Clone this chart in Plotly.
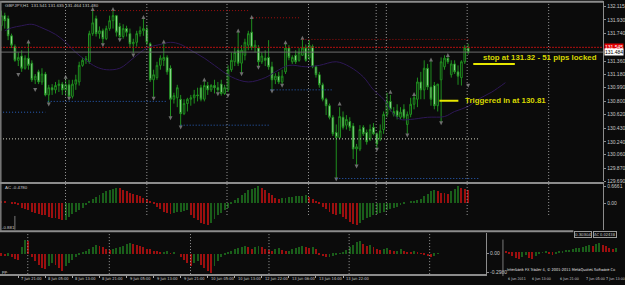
import plotly.graph_objects as go

# ---------------- data ----------------
OPEN = [131.85,131.99,131.95,131.71,131.56,131.37,131.43,131.26,131.40,131.33,
        131.10,131.21,131.07,131.18,130.89,130.99,130.96,131.02,131.04,130.96,
        131.03,130.87,131.04,131.07,131.30,131.37,131.35,131.74,131.95,131.74,
        131.78,131.67,131.81,131.92,131.99,131.84,131.70,131.81,131.74,131.60,
        131.62,131.74,131.78,131.80,131.60,131.10,131.13,131.30,131.37,131.41,
        131.26,130.83,130.85,130.83,130.63,130.77,130.83,130.85,130.89,130.99,
        130.83,131.02,130.96,131.02,130.99,131.04,130.91,130.96,131.24,131.35,
        131.51,131.33,131.44,131.58,131.76,131.55,131.54,131.35,131.40,131.41,
        131.28,131.10,131.15,131.07,131.21,131.54,131.35,131.44,131.37,131.44,
        131.54,131.40,131.56,131.28,131.17,131.03,130.83,130.74,130.58,130.37,
        130.30,130.58,130.47,130.52,130.46,130.14,130.14,130.44,130.37,130.28,
        130.44,130.35,130.28,130.41,130.62,130.80,130.62,130.67,130.58,130.69,
        130.48,130.62,130.76,130.83,131.07,130.96,131.26,131.00,131.02,130.74,
        131.10,131.28,131.40,131.17,131.32,131.21,131.13,131.35,131.54]
HIGH = [132.06,132.03,131.99,131.74,131.59,131.48,131.51,131.44,131.62,131.37,
        131.18,131.24,131.26,131.21,131.03,131.04,131.07,131.10,131.07,131.13,
        131.10,131.10,131.17,131.35,131.41,131.43,131.78,132.06,131.99,131.84,
        131.81,131.85,131.99,132.06,132.00,131.89,131.87,131.85,131.81,131.67,
        131.78,131.84,131.95,131.85,131.62,131.24,131.35,131.44,131.60,131.44,
        131.30,130.92,131.03,130.89,130.83,130.85,130.89,130.96,130.99,131.03,
        131.10,131.07,131.04,131.10,131.07,131.10,131.03,131.30,131.48,131.54,
        131.77,131.58,131.67,131.78,131.96,131.65,131.58,131.48,131.51,131.65,
        131.35,131.19,131.21,131.24,131.60,131.58,131.44,131.51,131.54,131.67,
        131.59,131.65,131.59,131.30,131.21,131.06,130.85,130.77,130.61,130.48,
        130.72,130.66,130.61,130.58,130.50,130.21,130.47,130.47,130.41,130.48,
        130.50,130.37,130.48,130.66,130.92,130.89,130.72,130.76,130.72,130.76,
        130.66,130.85,130.89,131.13,131.21,131.37,131.32,131.37,131.07,131.04,
        131.41,131.44,131.43,131.37,131.37,131.30,131.37,131.58,131.60]
LOW = [131.78,131.81,131.65,131.54,131.35,131.29,131.21,131.24,131.24,131.07,
       131.04,131.04,131.03,130.87,130.77,130.89,130.91,130.93,130.89,130.88,
       130.85,130.84,130.96,131.02,131.28,131.32,131.32,131.71,131.70,131.67,
       131.59,131.65,131.78,131.81,131.70,131.66,131.67,131.70,131.54,131.47,
       131.56,131.70,131.71,131.58,131.07,130.85,131.10,131.24,131.29,131.17,
       130.58,130.77,130.72,130.46,130.61,130.66,130.74,130.77,130.80,130.80,
       130.80,130.89,130.93,130.91,130.91,130.88,130.89,130.93,131.21,131.29,
       131.29,131.19,131.37,131.51,131.51,131.48,131.28,131.32,131.29,131.24,
       130.95,131.04,131.04,131.03,131.18,131.37,131.32,131.32,131.35,131.43,
       131.35,131.37,131.26,131.13,130.99,130.80,130.61,130.55,130.32,129.73,
       130.28,130.41,130.41,130.39,130.00,129.92,130.11,130.32,130.20,130.25,
       130.33,130.14,130.25,130.35,130.58,130.66,130.59,130.55,130.55,130.55,
       130.35,130.58,130.69,130.72,130.83,130.83,130.96,130.74,130.69,130.66,
       130.51,131.24,131.32,131.13,131.18,131.03,131.02,131.32,131.45]
CLOSE = [131.99,131.92,131.71,131.58,131.37,131.41,131.26,131.40,131.30,131.10,
         131.15,131.07,131.18,130.89,130.99,130.96,131.02,131.04,130.96,131.03,
         130.87,131.04,131.10,131.30,131.37,131.39,131.74,131.89,131.74,131.78,
         131.67,131.81,131.92,131.99,131.76,131.70,131.81,131.76,131.60,131.62,
         131.74,131.78,131.81,131.62,131.10,131.17,131.30,131.40,131.41,131.21,
         130.83,130.88,130.99,130.63,130.77,130.83,130.85,130.89,130.88,130.83,
         131.02,130.96,131.02,130.99,130.96,130.91,130.99,131.24,131.37,131.48,
         131.33,131.51,131.62,131.74,131.55,131.58,131.35,131.43,131.37,131.28,
         131.10,131.15,131.07,131.15,131.54,131.41,131.41,131.35,131.48,131.54,
         131.37,131.58,131.28,131.17,131.03,130.83,130.74,130.58,130.35,130.30,
         130.59,130.44,130.55,130.44,130.14,130.17,130.41,130.35,130.24,130.41,
         130.35,130.21,130.39,130.62,130.80,130.69,130.66,130.59,130.65,130.58,
         130.62,130.76,130.85,131.07,130.96,131.26,131.00,130.83,130.74,131.04,
         131.35,131.40,131.35,131.32,131.21,131.15,131.35,131.54,131.48]

MA_X = [1,3,6,9,12,16,19,22,25,28,31,35,39,43,47,50,53,56,60,63,68,73,78,81,85,
        90,94,99,103,107,110,113,116,118,121,126,131,134,138,141,145,149]
MA_Y = [131.78,131.82,131.85,131.87,131.82,131.73,131.62,131.48,131.37,131.28,
        131.24,131.26,131.40,131.54,131.59,131.62,131.59,131.51,131.40,131.30,
        131.14,131.07,131.13,131.21,131.30,131.28,131.30,131.35,131.28,131.14,
        130.96,130.83,130.62,130.55,130.55,130.58,130.59,130.66,130.73,130.83,
        130.93,131.06]

FRAC_UP_X = [8,19,27,33,42,48,60,70,74,84,89,100,115,122,127,132]
FRAC_UP_Y = [131.66,131.17,132.11,132.11,132.00,131.66,131.13,131.81,132.00,
             131.65,131.71,130.80,130.96,130.93,131.41,131.47]
FRAC_DN_X = [5,10,14,20,30,35,39,45,50,53,64,67,71,76,80,83,99,105,111,120,130,138]
FRAC_DN_Y = [131.14,130.93,130.73,130.81,131.55,131.62,131.41,130.81,130.54,
             130.41,130.87,130.85,131.15,131.24,130.91,130.99,129.69,129.87,
             130.10,130.30,130.47,130.99]

# dotted level lines: start bar, end bar, price
RED_LEVELS = [(27.4, 73.5, 132.06), (74.4, 88.1, 131.96), (89.0, 138.3, 131.66)]
BLUE_LEVELS = [(0.5, 13.0, 130.65), (13.7, 48.6, 130.80), (53.0, 79.0, 130.47),
               (79.6, 97.8, 130.96), (99.0, 141.2, 129.73)]
WHITE_LEVEL = (-0.4, 141.2, 130.28)
STOP_LEVEL = 131.55
BID = 131.484
STOP_LOCK = (139.5, 151.8, 131.32)
TRIGGER = (129.5, 135.1, 130.81)

SEPARATORS_MAIN = [18.95, 43.0, 66.7, 90.8, 110.8, 113.8, 137.7, 161.8]
SEPARATORS_LOW = [7.8, 31.9, 55.9, 79.1, 102.8, 126.6]

PRICE_TICKS = [132.115, 131.930, 131.740, 131.360, 131.180, 130.990, 130.800,
               130.620, 130.430, 130.240, 130.060, 129.870, 129.690]

AC = [0.05,0.03,0.00,-0.03,-0.06,-0.10,-0.20,-0.25,-0.30,-0.35,-0.40,-0.45,-0.47,
      -0.50,-0.55,-0.60,-0.62,-0.65,-0.70,-0.68,-0.55,-0.45,-0.38,-0.30,-0.20,-0.10,
      0.05,0.15,0.22,0.30,0.38,0.45,0.50,0.55,0.60,0.58,0.50,0.45,0.40,0.35,0.30,
      0.25,0.20,0.15,0.08,-0.05,-0.15,-0.25,-0.35,-0.40,-0.45,-0.42,-0.38,-0.35,
      -0.33,-0.30,-0.50,-0.60,-0.70,-0.80,-0.86,-0.88,-0.80,-0.65,-0.50,-0.40,-0.30,
      -0.20,-0.05,0.10,0.20,0.30,0.40,0.50,0.55,0.60,0.65,0.60,0.50,0.40,0.30,0.20,
      0.15,0.17,0.19,0.21,0.23,0.25,0.27,0.28,0.30,0.22,0.15,0.08,-0.05,-0.15,-0.25,
      -0.35,-0.45,-0.50,-0.45,-0.55,-0.65,-0.75,-0.85,-0.90,-0.80,-0.70,-0.60,-0.55,
      -0.50,-0.45,-0.40,-0.35,-0.30,-0.25,-0.20,-0.15,-0.10,-0.05,0.00,0.03,0.06,
      0.10,0.15,0.25,0.35,0.45,0.50,0.45,0.40,0.38,0.35,0.45,0.55,0.65,0.60,0.55,0.50]

OSC = [-0.03,-0.04,-0.03,-0.05,-0.08,-0.10,0.10,0.22,0.20,-0.05,-0.12,-0.18,-0.22,
       -0.25,-0.20,-0.15,-0.18,-0.22,-0.27,-0.20,-0.15,-0.10,-0.05,-0.02,0.02,0.05,
       0.08,0.10,0.14,0.12,0.10,0.08,0.06,0.07,0.09,0.11,0.13,0.15,0.17,0.15,0.14,
       0.12,0.10,0.08,0.07,0.05,0.04,0.02,0.03,0.04,0.01,0.02,0.00,-0.05,-0.10,-0.15,
       -0.19,-0.15,-0.12,-0.18,-0.22,-0.27,-0.30,-0.20,-0.12,-0.06,-0.02,0.02,0.05,
       0.07,0.09,0.11,0.12,0.10,0.08,0.11,0.12,0.10,0.08,0.06,0.05,0.07,0.09,0.06,
       0.04,0.05,0.07,0.09,0.11,0.13,0.11,0.09,0.10,0.08,-0.02,-0.04,-0.06,-0.05,
       -0.03,-0.02,0.01,0.03,0.06,0.10,0.14,0.18,0.20,0.16,0.12,0.14,0.10,0.08,0.06,
       0.07,0.09,0.06,0.04,0.05,0.07,0.05,0.03,0.02,0.04,0.03,0.01,-0.02,-0.04,-0.06,
       -0.03,0.01]

MINI = [0.05,-0.10,-0.30,-0.45,-0.50,-0.35,-0.20,-0.40,-0.50,-0.30,-0.15,-0.05,0.05,
        -0.10,-0.20,-0.10,0.05,0.10,0.15,0.20,0.25,0.30,0.35,0.40,0.50,0.55,0.45,
        0.60,0.70,0.55,0.45,0.35,0.25,0.30]

TIME_BARS = [-3, 5, 13, 21, 29, 37, 45, 53, 61, 69, 77, 85, 93, 101]
TIME_LABELS = ["7 Jun 13:00", "7 Jun 21:00", "8 Jun 05:00", "8 Jun 13:00",
               "8 Jun 21:00", "9 Jun 05:00", "9 Jun 13:00", "9 Jun 21:00",
               "10 Jun 05:00", "10 Jun 13:00", "12 Jun 22:00", "13 Jun 06:00",
               "13 Jun 14:00", "13 Jun 22:00"]
MINI_TIME_LABELS = ["6 Jun 2011", "6 Jun 13:00", "6 Jun 21:00", "7 Jun 05:00", "7 Jun 13:00"]
MINI_TIME_BARS = [0, 7.3, 15.8, 23.4, 29.4]

# ---------------- layout helpers ----------------
W, H = 625, 285
BG = "#0b0b0b"
WICK = "#1f8f1f"
BEAR_FILL = "#b8f5b8"
GRID = "#8c8c8c"
TXT = "#c8c8c8"
FONT = "Liberation Sans"
CFONT = "DejaVu Sans Condensed, Liberation Sans Narrow, Liberation Sans"


def fx(p):
    return p / W


def fy(p):
    return 1 - p / H


BARS = list(range(len(CLOSE)))

fig = go.Figure()

fig.add_trace(go.Candlestick(
    x=BARS, open=OPEN, high=HIGH, low=LOW, close=CLOSE,
    increasing=dict(line=dict(color=WICK, width=1), fillcolor=BG),
    decreasing=dict(line=dict(color=WICK, width=1), fillcolor=BEAR_FILL),
    whiskerwidth=0, hoverinfo="skip", xaxis="x", yaxis="y"))

fig.add_trace(go.Scatter(x=MA_X, y=MA_Y, mode="lines", line=dict(color="#2e1856", width=1, shape="spline"),
                         hoverinfo="skip", xaxis="x", yaxis="y"))

fig.add_trace(go.Scatter(x=FRAC_UP_X, y=FRAC_UP_Y, mode="markers",
                         marker=dict(symbol="arrow-up", size=4, color="#6e6e6e", line=dict(width=0)),
                         hoverinfo="skip", xaxis="x", yaxis="y"))
fig.add_trace(go.Scatter(x=FRAC_DN_X, y=FRAC_DN_Y, mode="markers",
                         marker=dict(symbol="arrow-down", size=4, color="#6e6e6e", line=dict(width=0)),
                         hoverinfo="skip", xaxis="x", yaxis="y"))


def hist_colors(vals):
    cols = []
    for i, v in enumerate(vals):
        prev = vals[i - 1] if i > 0 else v + 1
        cols.append("#1a5e1a" if v > prev else "#9c0f0f")
    return cols


fig.add_trace(go.Bar(x=BARS, y=AC, marker=dict(color=hist_colors(AC), line=dict(width=0)),
                     width=0.28, hoverinfo="skip", xaxis="x2", yaxis="y2"))
fig.add_trace(go.Bar(x=list(range(len(OSC))), y=OSC, marker=dict(color=hist_colors(OSC), line=dict(width=0)),
                     width=0.28, hoverinfo="skip", xaxis="x3", yaxis="y3"))
fig.add_trace(go.Bar(x=list(range(len(MINI))), y=MINI, marker=dict(color=hist_colors(MINI), line=dict(width=0)),
                     width=0.28, hoverinfo="skip", xaxis="x4", yaxis="y4"))

XR = [-0.41, 177.9]
fig.update_layout(
    width=W, height=H, margin=dict(l=0, r=0, t=0, b=0),
    paper_bgcolor=BG, plot_bgcolor=BG, showlegend=False, bargap=0,
    xaxis=dict(domain=[0, fx(608)], range=XR, visible=False, rangeslider=dict(visible=False)),
    yaxis=dict(domain=[fy(183), 1], range=[132.193 - 0.01368 * 183, 132.193], side="right",
               tickvals=PRICE_TICKS, ticktext=["%.3f" % v for v in PRICE_TICKS],
               tickfont=dict(size=5, color=TXT, family=FONT), ticks="outside", ticklen=2,
               tickcolor=GRID, showgrid=False, zeroline=False, showline=True, linecolor=GRID),
    xaxis2=dict(domain=[0, fx(608)], range=XR, visible=False, anchor="y2"),
    yaxis2=dict(domain=[fy(232), fy(186)], range=[-1.059, 0.745], side="right", anchor="x2",
                tickvals=[0.6661, 0], ticktext=["0.6661", "0.00"],
                tickfont=dict(size=5, color=TXT, family=FONT), ticks="outside", ticklen=2,
                tickcolor=GRID, showgrid=False, zeroline=False, showline=True, linecolor=GRID),
    xaxis3=dict(domain=[0, fx(490)], range=[-0.41, 143.28], anchor="y3", tickvals=TIME_BARS,
                showticklabels=False, ticks="outside", ticklen=2, tickcolor="#aaaaaa",
                showgrid=False, zeroline=False, showline=True, linecolor=GRID, linewidth=2),
    yaxis3=dict(domain=[fy(277), fy(235)], range=[-0.329, 0.329], side="right", anchor="x3",
                tickvals=[0, -0.298], ticktext=["0.00", "-0.2980"],
                tickfont=dict(size=5, color=TXT, family=FONT), ticks="outside", ticklen=2,
                tickcolor=GRID, showgrid=False, zeroline=False, showline=True, linecolor=GRID),
    xaxis4=dict(domain=[fx(508), 1], range=[-0.5, 34.2], anchor="y4", visible=False),
    yaxis4=dict(domain=[fy(268), fy(241)], range=[-1, 1], anchor="x4", visible=False),
)

shapes = []
for s in SEPARATORS_MAIN:
    shapes.append(dict(type="line", xref="x", yref="paper", x0=s, x1=s, y0=fy(217), y1=1,
                       line=dict(color="#9a9a9a", width=1, dash="1px,2px")))
for s in SEPARATORS_LOW:
    shapes.append(dict(type="line", xref="x3", yref="paper", x0=s, x1=s, y0=fy(277), y1=fy(235),
                       line=dict(color="#9a9a9a", width=1, dash="1px,2px")))
for x0, x1, p in RED_LEVELS:
    shapes.append(dict(type="line", xref="x", yref="y", x0=x0, x1=x1, y0=p, y1=p,
                       line=dict(color="#a01010", width=1, dash="1px,2px")))
for x0, x1, p in BLUE_LEVELS:
    shapes.append(dict(type="line", xref="x", yref="y", x0=x0, x1=x1, y0=p, y1=p,
                       line=dict(color="#2a62c0", width=1, dash="1px,2px")))
x0, x1, p = WHITE_LEVEL
shapes.append(dict(type="line", xref="x", yref="y", x0=x0, x1=x1, y0=p, y1=p,
                   line=dict(color="#d8d8c8", width=1, dash="1px,2px")))
shapes.append(dict(type="line", xref="x", yref="y", x0=XR[0], x1=XR[1], y0=STOP_LEVEL, y1=STOP_LEVEL,
                   line=dict(color="#b01010", width=1, dash="2px,1px")))
shapes.append(dict(type="line", xref="x", yref="y", x0=XR[0], x1=XR[1], y0=BID, y1=BID,
                   line=dict(color="#6e6e6e", width=1)))
for x0, x1, p in (STOP_LOCK, TRIGGER):
    shapes.append(dict(type="line", xref="x", yref="y", x0=x0, x1=x1, y0=p, y1=p,
                       line=dict(color="#e8e800", width=2)))
shapes += [
    dict(type="line", xref="paper", yref="paper", x0=0, x1=fx(608), y0=fy(0.8), y1=fy(0.8),
         line=dict(color=GRID, width=2)),
    dict(type="line", xref="paper", yref="paper", x0=fx(0.8), x1=fx(0.8), y0=fy(233), y1=1,
         line=dict(color="#7a7a7a", width=1.5)),
    dict(type="line", xref="paper", yref="paper", x0=0, x1=fx(609), y0=fy(184.5), y1=fy(184.5),
         line=dict(color=GRID, width=2)),
    dict(type="line", xref="paper", yref="paper", x0=0, x1=fx(578), y0=fy(233.5), y1=fy(233.5),
         line=dict(color=GRID, width=2)),
    dict(type="line", xref="paper", yref="paper", x0=fx(507), x1=fx(507), y0=fy(279), y1=fy(242),
         line=dict(color="#7a7a7a", width=1)),
    dict(type="line", xref="paper", yref="paper", x0=fx(15), x1=fx(15), y0=fy(232), y1=fy(218),
         line=dict(color="#7a7a7a", width=1)),
]
fig.update_layout(shapes=shapes)

ann = []
small = dict(size=4.4, color=TXT, family=FONT)
tiny = dict(size=4.0, color=TXT, family=CFONT)
mini = dict(size=3.7, color=TXT, family=CFONT)
ann.append(dict(x=fx(3), y=fy(5), xref="paper", yref="paper", xanchor="left", yanchor="middle",
                text="GBPJPY,H1  131.541 131.635 131.464 131.480", showarrow=False, font=small))
ann.append(dict(x=fx(3), y=fy(189), xref="paper", yref="paper", xanchor="left", yanchor="middle",
                text="AC -0.4780", showarrow=False, font=small))
ann.append(dict(x=fx(0), y=fy(230), xref="paper", yref="paper", xanchor="left", yanchor="middle",
                text="-0.881", showarrow=False, font=small))
ann.append(dict(x=fx(0), y=fy(274), xref="paper", yref="paper", xanchor="left", yanchor="middle",
                text="pp.", showarrow=False, font=small))
ann.append(dict(x=fx(609), y=STOP_LEVEL, xref="paper", yref="y", xanchor="left", yanchor="middle",
                text="131.545", showarrow=False, bgcolor="#e00000", borderpad=0,
                font=dict(size=5, color="#ffffff", family=FONT)))
ann.append(dict(x=fx(609), y=BID, xref="paper", yref="y", xanchor="left", yanchor="middle",
                text="131.484", showarrow=False, bgcolor="#ffffff", borderpad=0,
                font=dict(size=5, color="#000000", family=FONT)))
ann.append(dict(x=141.8, y=131.41, xref="x", yref="y", xanchor="left", yanchor="middle",
                text="<b>stop at 131.32 - 51 pips locked</b>", showarrow=False,
                font=dict(size=7.9, color="#d8d800", family=FONT)))
ann.append(dict(x=136.5, y=130.81, xref="x", yref="y", xanchor="left", yanchor="middle",
                text="<b>Triggered in at 130.81</b>", showarrow=False,
                font=dict(size=7.9, color="#d8d800", family=FONT)))
for b, t in zip(TIME_BARS, TIME_LABELS):
    ann.append(dict(x=b, y=fy(281.5), xref="x3", yref="paper", xanchor="left", yanchor="middle",
                    text=t, showarrow=False, xshift=1, font=tiny))
for b, t in zip(MINI_TIME_BARS, MINI_TIME_LABELS):
    ann.append(dict(x=b, y=fy(281.5), xref="x4", yref="paper", xanchor="left", yanchor="middle",
                    text=t, showarrow=False, font=mini))
ann.append(dict(x=fx(509), y=fy(272), xref="paper", yref="paper", xanchor="left", yanchor="middle",
                text="Interbank FX Trader 4, © 2001-2011 MetaQuotes Software Co", showarrow=False,
                font=dict(size=3.9, color="#e0e0e0", family=CFONT)))
ann.append(dict(x=fx(579), y=fy(237), xref="paper", yref="paper", xanchor="left", yanchor="middle",
                text="0.30304", showarrow=False, bgcolor=BG, bordercolor="#9a9a9a", borderwidth=1,
                borderpad=0, font=small))
ann.append(dict(x=fx(598), y=fy(237), xref="paper", yref="paper", xanchor="left", yanchor="middle",
                text="AC 0.02438", showarrow=False, bgcolor=BG, bordercolor="#9a9a9a", borderwidth=1,
                borderpad=0, font=tiny))
fig.update_layout(annotations=ann)

fig.write_html("out.html")
